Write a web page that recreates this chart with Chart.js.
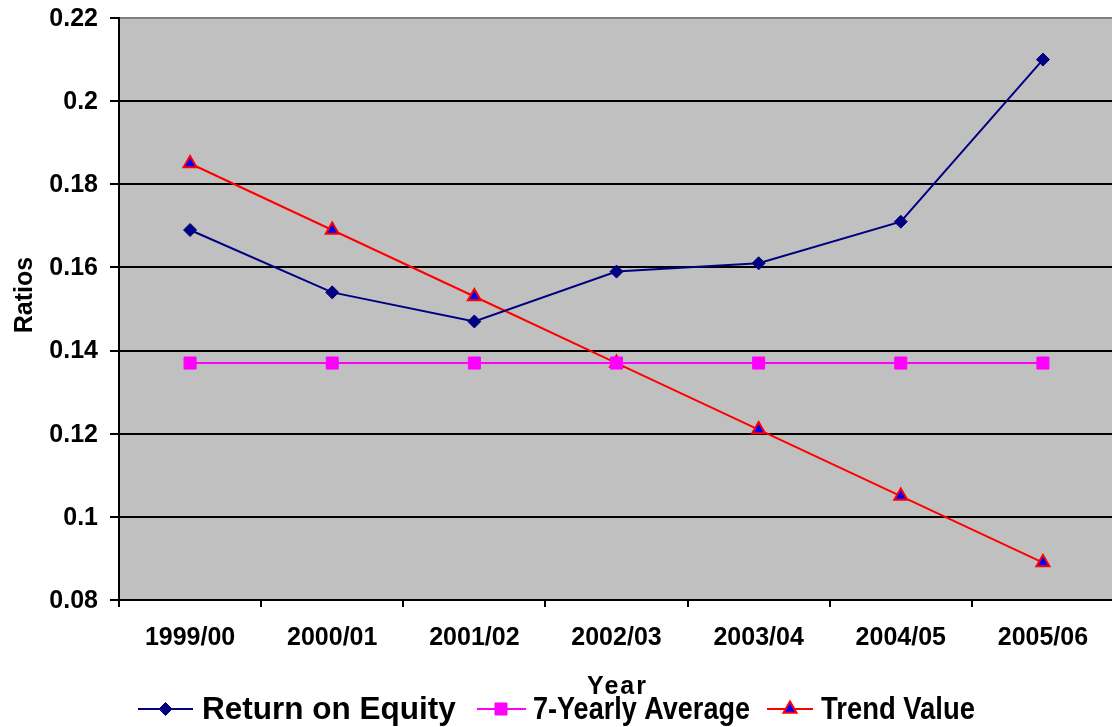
<!DOCTYPE html>
<html>
<head>
<meta charset="utf-8">
<title>Return on Equity</title>
<script src="https://cdn.jsdelivr.net/npm/chart.js@4/dist/chart.umd.min.js"></script>
<style>
  html, body { margin: 0; padding: 0; background: #ffffff; overflow: hidden; }
  canvas { display: block; }
</style>
</head>
<body>
<canvas id="chart" width="1115" height="727"></canvas>
<script>
// Year categories along the x axis
const categories = ['1999/00', '2000/01', '2001/02', '2002/03', '2003/04', '2004/05', '2005/06'];

// Series values
const returnOnEquity = [0.169, 0.154, 0.147, 0.159, 0.161, 0.171, 0.210];
const sevenYearlyAverage = [0.137, 0.137, 0.137, 0.137, 0.137, 0.137, 0.137];
const trendValue = [0.185, 0.169, 0.153, 0.137, 0.121, 0.105, 0.089];

// Value-axis tick labels
const yTickLabels = ['0.08', '0.1', '0.12', '0.14', '0.16', '0.18', '0.2', '0.22'];

const seriesNames = ['Return on Equity', '7-Yearly Average', 'Trend Value'];

const FONT = '"Liberation Sans", Arial, sans-serif';

const series = [
  { label: seriesNames[0], data: returnOnEquity, line: '#000080', fill: '#000080', stroke: '#000080', style: 'rectRot', radius: 6.5, bw: 1 },
  { label: seriesNames[1], data: sevenYearlyAverage, line: '#FF00FF', fill: '#FF00FF', stroke: '#FF00FF', style: 'rect', radius: 8.5, bw: 1 },
  { label: seriesNames[2], data: trendValue, line: '#FF0000', fill: '#0000FF', stroke: '#FF0000', style: 'triangle', radius: 7.5, bw: 2 }
];

// Plot background, axis/legend text drawn around the plot
const decorations = {
  id: 'decorations',
  beforeDraw(chart) {
    const { ctx, chartArea: a } = chart;
    ctx.save();
    ctx.fillStyle = '#ffffff';
    ctx.fillRect(0, 0, chart.width, chart.height);
    ctx.fillStyle = '#C0C0C0';
    ctx.fillRect(a.left, a.top, a.right - a.left, a.bottom - a.top);
    ctx.restore();
  },
  afterDraw(chart) {
    const ctx = chart.ctx;
    ctx.save();
    ctx.fillStyle = '#000000';

    // y axis title
    ctx.save();
    ctx.font = 'bold 25px ' + FONT;
    ctx.translate(31.5, 295);
    ctx.rotate(-Math.PI / 2);
    ctx.textAlign = 'center';
    ctx.textBaseline = 'alphabetic';
    ctx.fillText('Ratios', 0, 0);
    ctx.restore();

    // x axis title
    ctx.save();
    ctx.font = 'bold 25px ' + FONT;
    ctx.letterSpacing = '2px';
    ctx.textAlign = 'center';
    ctx.textBaseline = 'alphabetic';
    ctx.fillText('Year', 617.5, 694);
    ctx.restore();

    // legend
    const items = [
      { x1: 138, x2: 193, mx: 165.5, tx: 202, tw: 254 },
      { x1: 477, x2: 526, mx: 501, tx: 533, tw: 217 },
      { x1: 767, x2: 813, mx: 790, tx: 821, tw: 154 }
    ];
    const ly = 709;
    items.forEach((it, i) => {
      const s = series[i];
      ctx.save();
      ctx.strokeStyle = s.line;
      ctx.lineWidth = 2;
      ctx.beginPath();
      ctx.moveTo(it.x1, ly);
      ctx.lineTo(it.x2, ly);
      ctx.stroke();
      ctx.fillStyle = s.fill;
      ctx.strokeStyle = s.stroke;
      ctx.lineWidth = s.bw;
      Chart.helpers.drawPoint(ctx, { pointStyle: s.style, radius: s.radius, borderWidth: s.bw, rotation: 0 }, it.mx, ly);
      ctx.restore();

      ctx.save();
      ctx.fillStyle = '#000000';
      ctx.font = 'bold 31.5px ' + FONT;
      ctx.textAlign = 'left';
      ctx.textBaseline = 'alphabetic';
      ctx.fillText(s.label, it.tx, 719, it.tw);
      ctx.restore();
    });
    ctx.restore();
  }
};

new Chart(document.getElementById('chart'), {
  type: 'line',
  data: {
    labels: categories,
    datasets: series.map(s => ({
      label: s.label,
      data: s.data,
      borderColor: s.line,
      borderWidth: 2,
      backgroundColor: s.fill,
      pointBackgroundColor: s.fill,
      pointBorderColor: s.stroke,
      pointBorderWidth: s.bw,
      pointStyle: s.style,
      pointRadius: s.radius,
      pointHoverRadius: s.radius,
      tension: 0,
      fill: false
    }))
  },
  options: {
    responsive: false,
    animation: false,
    devicePixelRatio: 1,
    layout: { autoPadding: false, padding: { left: 0, top: 18, right: 1, bottom: 0 } },
    plugins: {
      legend: { display: false },
      tooltip: { enabled: false }
    },
    scales: {
      x: {
        type: 'category',
        offset: true,
        afterFit(scale) {
          scale.height = 127;
          scale.paddingLeft = 0;
          scale.paddingRight = 0;
        },
        grid: {
          offset: true,
          drawOnChartArea: false,
          drawTicks: true,
          tickLength: 7,
          tickWidth: 2,
          tickColor: '#000000',
          color: '#000000',
          lineWidth: 2
        },
        border: { display: true, color: '#000000', width: 2 },
        ticks: {
          color: '#000000',
          font: { family: FONT, size: 25, weight: 'bold' },
          padding: 16,
          maxRotation: 0,
          autoSkip: false
        }
      },
      y: {
        type: 'linear',
        min: 0.08,
        max: 0.22,
        afterFit(scale) {
          scale.width = 119;
          scale.paddingTop = 0;
          scale.paddingBottom = 0;
        },
        grid: {
          drawTicks: true,
          tickLength: 9,
          tickWidth: 2,
          tickColor: '#000000',
          lineWidth: 2,
          color(ctx) {
            return ctx.tick && Math.abs(ctx.tick.value - 0.22) < 1e-9 ? '#808080' : '#000000';
          }
        },
        border: { display: true, color: '#000000', width: 2 },
        ticks: {
          stepSize: 0.02,
          color: '#000000',
          font: { family: FONT, size: 25, weight: 'bold' },
          padding: 12,
          labelOffset: 1,
          callback(value) {
            const hit = yTickLabels.find(t => Math.abs(parseFloat(t) - value) < 1e-9);
            return hit !== undefined ? hit : '';
          }
        }
      }
    }
  },
  plugins: [decorations]
});
</script>
</body>
</html>
